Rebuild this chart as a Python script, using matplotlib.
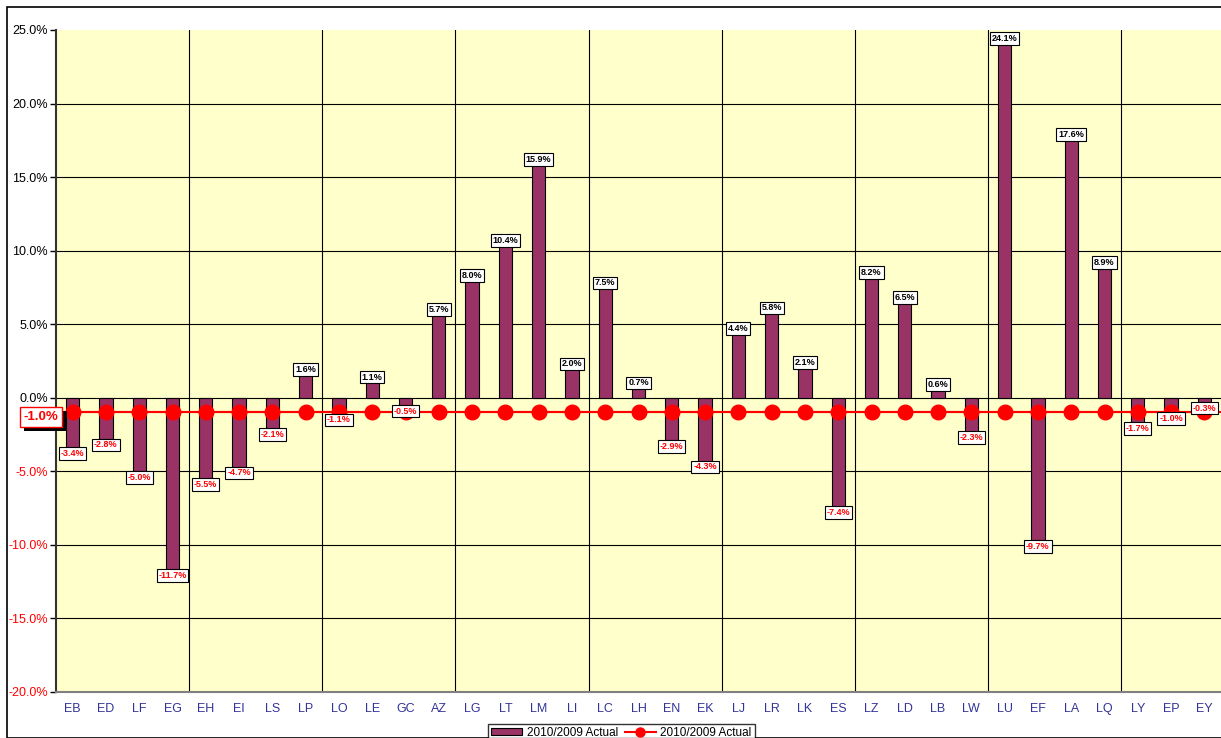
import matplotlib.pyplot as plt
import matplotlib.patheffects as pe
from matplotlib.lines import Line2D
from matplotlib.patches import Rectangle
from matplotlib.ticker import FuncFormatter

plt.rcParams['font.family'] = ['Liberation Sans', 'DejaVu Sans']

codes = ['EB', 'ED', 'LF', 'EG', 'EH', 'EI', 'LS', 'LP', 'LO', 'LE', 'GC', 'AZ',
         'LG', 'LT', 'LM', 'LI', 'LC', 'LH', 'EN', 'EK', 'LJ', 'LR', 'LK', 'ES',
         'LZ', 'LD', 'LB', 'LW', 'LU', 'EF', 'LA', 'LQ', 'LY', 'EP', 'EY']
actual = [-3.4, -2.8, -5.0, -11.7, -5.5, -4.7, -2.1, 1.6, -1.1, 1.1, -0.5, 5.7,
          8.0, 10.4, 15.9, 2.0, 7.5, 0.7, -2.9, -4.3, 4.4, 5.8, 2.1, -7.4,
          8.2, 6.5, 0.6, -2.3, 24.1, -9.7, 17.6, 8.9, -1.7, -1.0, -0.3]
total = -1.0
series_name = '2010/2009 Actual'

fig = plt.figure(figsize=(12.21, 7.38), dpi=100)
ax = fig.add_axes([56 / 1221, 1 - 692 / 738, 1 - 56 / 1221, (692 - 30) / 738])
ax.set_facecolor('#ffffcc')

# outer chart border
fig.patches.append(Rectangle((7 / 1221, 0), 1, 1 - 7 / 738, transform=fig.transFigure,
                             fill=False, edgecolor='black', linewidth=1.2))

x = list(range(len(codes)))
bars = ax.bar(x, actual, width=0.4, color='#993366', edgecolor='black',
              linewidth=0.8, zorder=3)
ax.axhline(total, color='red', linewidth=1.5, zorder=4)
ax.plot(x, [total] * len(codes), color='red', marker='o', markersize=10.5,
        linewidth=1.5, zorder=4)

for xi, v in zip(x, actual):
    if v >= 0:
        ax.annotate(f'{v:.1f}%', (xi, v), xytext=(0, 0), textcoords='offset points',
                    ha='center', va='bottom', fontsize=6.5, fontweight='bold',
                    color='black', zorder=6,
                    bbox=dict(boxstyle='square,pad=0.2', fc='white', ec='black', lw=0.8))
    else:
        ax.annotate(f'{v:.1f}%', (xi, v), xytext=(0, -1), textcoords='offset points',
                    ha='center', va='top', fontsize=6.5, fontweight='bold',
                    color='red', zorder=6,
                    bbox=dict(boxstyle='square,pad=0.2', fc='white', ec='black', lw=0.8))

# total label at left, with a drop shadow
tl = ax.text(-0.95, -1.3, f'{total:.1f}%', ha='center', va='center', fontsize=9.5,
             fontweight='bold', color='red', zorder=7, clip_on=False,
             bbox=dict(boxstyle='square,pad=0.3', fc='white', ec='red', lw=1))
tl.get_bbox_patch().set_path_effects([
    pe.SimplePatchShadow(offset=(3, -3), shadow_rgbFace='black', alpha=1), pe.Normal()])

ax.set_xlim(-0.5, len(codes) - 0.5)
ax.set_ylim(-20, 25)
ax.set_yticks(range(-20, 26, 5))
ax.yaxis.set_major_formatter(FuncFormatter(lambda v, p: f'{v:.1f}%'))
for lbl, v in zip(ax.get_yticklabels(), range(-20, 26, 5)):
    lbl.set_color('red' if v < 0 else 'black')
ax.tick_params(axis='y', labelsize=9, length=4, width=1, pad=2)
ax.set_xticks(x)
ax.set_xticklabels(codes, color='#333399', fontsize=9)
ax.tick_params(axis='x', length=0, pad=8)

for yv in range(-15, 25, 5):
    ax.axhline(yv, color='black', linewidth=0.8, zorder=1)
for xv in range(4, len(codes), 4):
    ax.axvline(xv - 0.5, color='black', linewidth=0.8, zorder=1)

for s in ['top', 'right']:
    ax.spines[s].set_visible(False)
ax.spines['left'].set_color('#333333')
ax.spines['left'].set_linewidth(1.5)
ax.spines['bottom'].set_color('#808080')
ax.spines['bottom'].set_linewidth(1.5)

line_handle = Line2D([], [], color='red', marker='o', markersize=6.5, linewidth=1.5)
leg = fig.legend([bars, line_handle], [series_name, series_name], loc='upper center',
                 bbox_to_anchor=(0.509, 0.027), ncol=2, fontsize=8.5, frameon=True,
                 fancybox=False, edgecolor='black', handlelength=2.6,
                 handleheight=0.5, borderpad=0.25, columnspacing=0.6,
                 handletextpad=0.4)
leg.get_frame().set_linewidth(1)

fig.savefig('out.png', dpi=100)
